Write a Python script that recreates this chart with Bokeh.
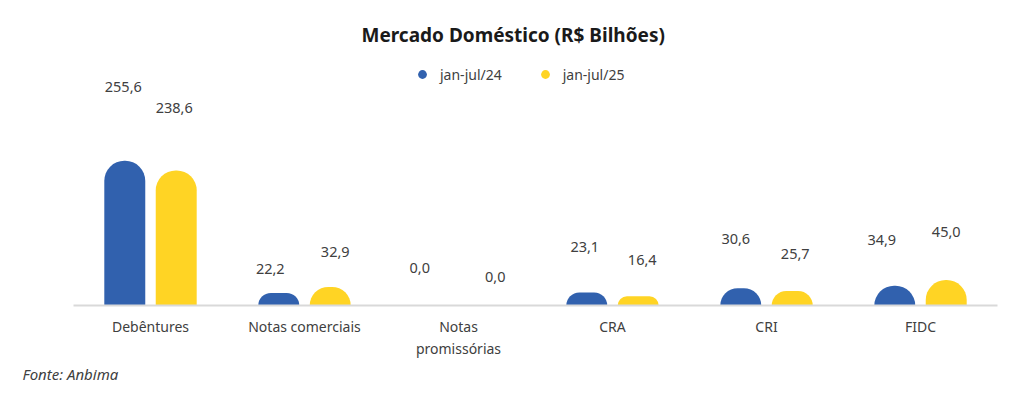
from bokeh.plotting import figure
from bokeh.models import ColumnDataSource, FactorRange, Range1d, Legend, LegendItem, Title
from bokeh.transform import dodge
from bokeh.core.properties import value
from bokeh.embed import file_html
from bokeh.resources import INLINE

# ---- data ----
categories = ["Debêntures", "Notas comerciais", "Notas\npromissórias", "CRA", "CRI", "FIDC"]
series_names = ["jan-jul/24", "jan-jul/25"]
values_24 = [255.6, 22.2, 0.0, 23.1, 30.6, 34.9]
values_25 = [238.6, 32.9, 0.0, 16.4, 25.7, 45.0]
title_text = "Mercado Doméstico (R$ Bilhões)"
source_text = "Fonte: Anbima"

# ---- label placement (pixel offsets, style only) ----
lbl_dx_24 = [-1.5, -8.5, -13, -2, -5, -13]
lbl_dy_24 = [-74, -24, -38, -45, -49, -46]
lbl_dx_25 = [-2, 5, 11, 4, 3, 0]
lbl_dy_25 = [-62, -35, -29, -36, -37, -48]

BLUE = "#3161AE"
YELLOW = "#FFD424"
TEXT = "#404040"
FONT = "Noto Sans"

def fmt(v):
    return f"{v:.1f}".replace(".", ",")

src = ColumnDataSource(dict(
    cat=categories,
    v24=values_24, v25=values_25,
    t24=[fmt(v) for v in values_24], t25=[fmt(v) for v in values_25],
    dx24=lbl_dx_24, dy24=lbl_dy_24, dx25=lbl_dx_25, dy25=lbl_dy_25,
))

p = figure(width=1016, height=393, output_backend="svg", toolbar_location=None,
           x_range=FactorRange(*categories, range_padding=0, factor_padding=0),
           y_range=Range1d(0, 454), y_axis_location=None,
           min_border_left=73, min_border_right=19, min_border_top=48, min_border_bottom=88)
p.outline_line_color = None
p.grid.visible = False
p.background_fill_color = "white"

p.title = Title(text=title_text, align="left", offset=288, standoff=2,
                text_font=FONT, text_font_size="19px", text_font_style="bold",
                text_color="#1a1a1a")

off = 0.167
w = 0.266
r1 = p.vbar(x=dodge("cat", -off, range=p.x_range), top="v24", width=w, source=src,
            fill_color=BLUE, line_color=None, border_radius=(20, 20, 0, 0))
r2 = p.vbar(x=dodge("cat", off, range=p.x_range), top="v25", width=w, source=src,
            fill_color=YELLOW, line_color=None, border_radius=(20, 20, 0, 0))

p.text(x=dodge("cat", -off, range=p.x_range), y="v24", text="t24", x_offset="dx24", y_offset="dy24",
       source=src, text_align="center", text_baseline="middle", text_color=TEXT,
       text_font=value(FONT), text_font_size="14.5px")
p.text(x=dodge("cat", off, range=p.x_range), y="v25", text="t25", x_offset="dx25", y_offset="dy25",
       source=src, text_align="center", text_baseline="middle", text_color=TEXT,
       text_font=value(FONT), text_font_size="14.5px")

ax = p.xaxis[0]
ax.axis_line_color = "#d9d9d9"
ax.axis_line_width = 2
ax.major_tick_line_color = None
ax.minor_tick_line_color = None
ax.major_label_text_font = FONT
ax.major_label_text_font_size = "14px"
ax.major_label_text_color = TEXT
ax.major_label_standoff = 5

# legend with circular markers (proxy renderers, zero size so nothing shows in the plot)
d1 = p.scatter(x=[categories[0]], y=[0], size=0, marker="circle", fill_color=BLUE, line_color=None)
d2 = p.scatter(x=[categories[0]], y=[0], size=0, marker="circle", fill_color=YELLOW, line_color=None)
legend = Legend(items=[LegendItem(label=series_names[0], renderers=[d1]),
                       LegendItem(label=series_names[1], renderers=[d2])],
                orientation="horizontal", location=(338, 220),
                border_line_color=None, background_fill_alpha=0,
                padding=0, margin=0, glyph_width=22, glyph_height=22,
                label_standoff=7, spacing=32,
                label_text_font=FONT, label_text_font_size="14px", label_text_color=TEXT)
p.add_layout(legend, "center")

p.add_layout(Title(text=source_text, align="left", offset=-51, standoff=0,
                   text_font=FONT, text_font_size="15px", text_font_style="italic",
                   text_color=TEXT), "below")

open("out.html", "w").write(file_html(p, INLINE))
